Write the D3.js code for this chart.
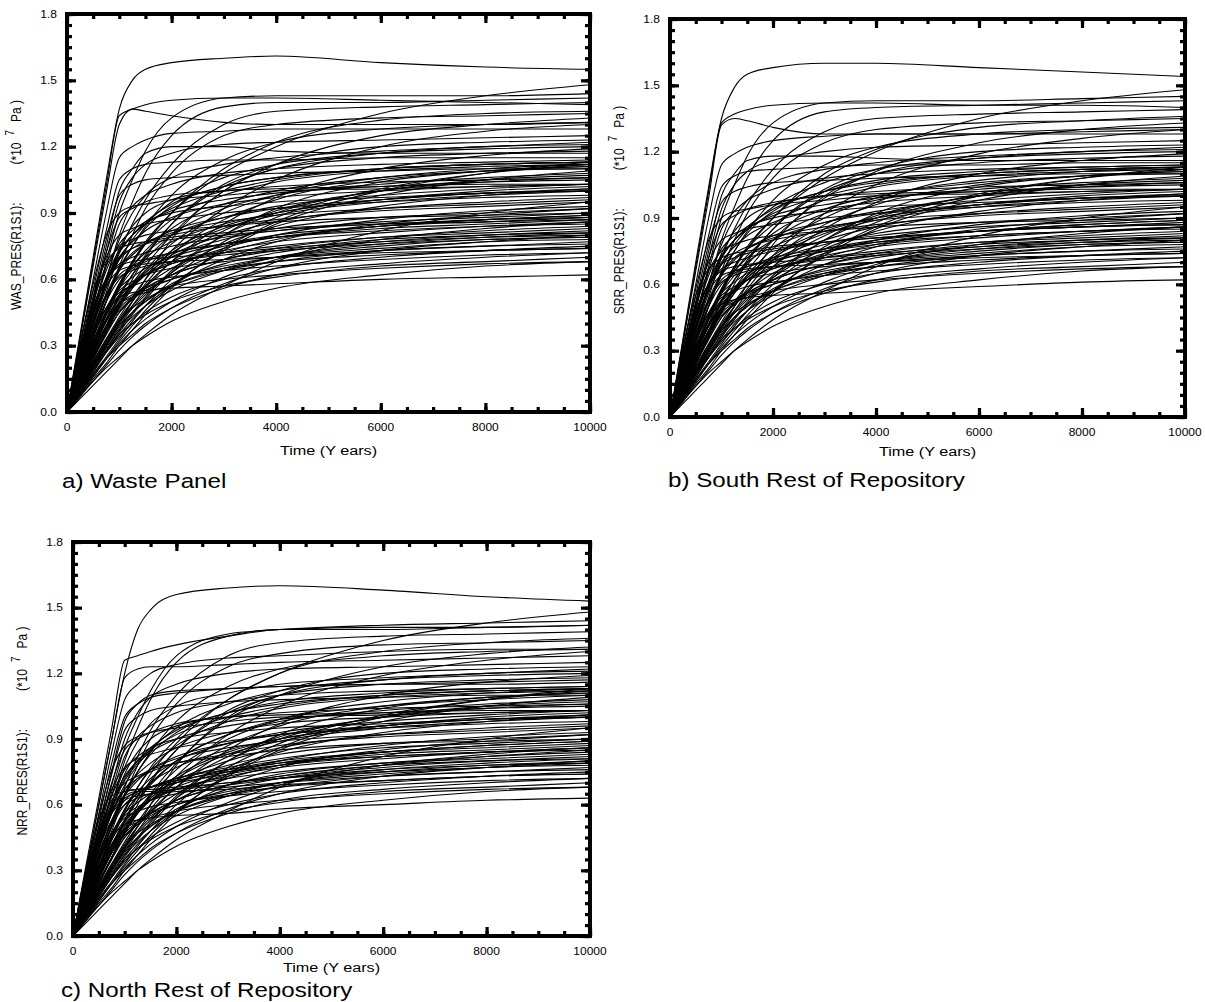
<!DOCTYPE html>
<html><head><meta charset="utf-8">
<script src="https://cdn.jsdelivr.net/npm/d3@7"></script>
<style>body{margin:0;background:#fff}</style>
</head><body>
<svg id="chart" width="1205" height="1002"></svg>
<script>
// ---------- data ----------
const years = [0,250,500,750,1000,1250,1500,2000,3000,4000,6000,8000,10000];
const xMajorTicks = [0,2000,4000,6000,8000,10000];
const yMajorTicks = [0,0.3,0.6,0.9,1.2,1.5,1.8];
const xTickLabels = ["0","2000","4000","6000","8000","10000"];
const yTickLabels = ["0.0","0.3","0.6","0.9","1.2","1.5","1.8"];
const variableNames = ["WAS_PRES(R1S1):","SRR_PRES(R1S1):","NRR_PRES(R1S1):"];
const captions = ["a) Waste Panel","b) South Rest of Repository","c) North Rest of Repository"];
const xTitle = "Time (Y ears)";

// pressure (x 10^7 Pa) at the times in `years`
const wasCurves = [
[0,.35,.7,1.05,1.37,1.5,1.55,1.58,1.6,1.61,1.58,1.56,1.55],
[0,.34,.68,1.02,1.34,1.37,1.39,1.41,1.42,1.42,1.41,1.4,1.39],
[0,.33,.66,.99,1.3,1.37,1.36,1.34,1.31,1.3,1.3,1.3,1.31],
[0,.15,.3,.44,.57,.68,.77,.9,1.08,1.2,1.35,1.43,1.48],
[0,.22,.45,.68,.9,1.05,1.18,1.33,1.42,1.43,1.43,1.43,1.44],
[0,.2,.4,.6,.8,.95,1.08,1.25,1.38,1.4,1.4,1.41,1.42],
[0,.25,.5,.75,1.0,1.1,1.17,1.2,1.2,1.18,1.17,1.17,1.17],
[0,.18,.36,.54,.72,.85,.96,1.12,1.3,1.36,1.38,1.39,1.4],
[0,.14,.28,.42,.56,.67,.76,.9,1.1,1.22,1.32,1.35,1.36],
[0,.3,.6,.9,1.15,1.2,1.23,1.26,1.27,1.28,1.28,1.28,1.28],
[0,.12,.25,.37,.48,.58,.66,.8,1.0,1.12,1.25,1.3,1.33],
[0,.28,.55,.82,1.05,1.1,1.12,1.13,1.14,1.14,1.15,1.15,1.15],
[0,.16,.33,.5,.66,.8,.92,1.08,1.25,1.3,1.33,1.34,1.35],
[0,.11,.22,.33,.43,.52,.6,.73,.92,1.05,1.2,1.27,1.3],
[0,.24,.48,.72,.95,1.06,1.12,1.17,1.21,1.22,1.23,1.24,1.25],
[0,.2,.4,.6,.78,.9,.98,1.06,1.12,1.15,1.18,1.2,1.22],
[0,.13,.26,.39,.52,.62,.71,.85,1.02,1.1,1.17,1.2,1.21],
[0,.26,.52,.78,.98,1.03,1.05,1.06,1.07,1.08,1.09,1.1,1.1],
[0,.1,.2,.3,.4,.48,.56,.68,.85,.97,1.1,1.16,1.19],
[0,.22,.44,.66,.85,.93,.98,1.03,1.08,1.1,1.12,1.13,1.14],
[0,.17,.34,.5,.65,.75,.83,.93,1.02,1.06,1.1,1.12,1.13],
[0,.25,.5,.72,.88,.92,.95,.98,1.0,1.02,1.04,1.05,1.06],
[0,.12,.24,.36,.47,.56,.64,.76,.9,.98,1.06,1.1,1.12],
[0,.3,.58,.8,.9,.93,.94,.96,.98,1.0,1.01,1.02,1.03],
[0,.15,.3,.45,.58,.68,.76,.87,.98,1.04,1.09,1.11,1.12],
[0,.09,.18,.27,.36,.44,.51,.63,.8,.92,1.04,1.09,1.11],
[0,.2,.4,.58,.72,.8,.85,.91,.96,.99,1.02,1.04,1.05],
[0,.14,.28,.41,.53,.62,.69,.8,.92,.98,1.03,1.06,1.08],
[0,.27,.52,.7,.8,.83,.85,.87,.9,.92,.95,.97,.98],
[0,.11,.22,.32,.42,.5,.57,.68,.82,.91,1.0,1.04,1.06],
[0,.18,.36,.52,.64,.71,.76,.82,.88,.92,.96,.99,1.0],
[0,.08,.16,.24,.32,.39,.46,.57,.73,.85,.98,1.05,1.09],
[0,.22,.42,.58,.69,.74,.77,.8,.84,.87,.91,.93,.95],
[0,.13,.26,.38,.49,.57,.63,.72,.83,.89,.95,.98,1.0],
[0,.16,.32,.46,.58,.66,.72,.8,.88,.93,.98,1.01,1.03],
[0,.31,.55,.68,.74,.76,.77,.79,.81,.83,.85,.87,.88],
[0,.1,.2,.3,.39,.47,.53,.63,.76,.84,.93,.98,1.01],
[0,.19,.37,.53,.65,.72,.76,.81,.86,.89,.92,.94,.96],
[0,.14,.27,.39,.49,.57,.63,.71,.8,.86,.92,.95,.97],
[0,.24,.45,.6,.7,.74,.76,.78,.8,.82,.85,.86,.87],
[0,.12,.24,.35,.45,.52,.57,.65,.74,.8,.87,.91,.93],
[0,.2,.38,.52,.62,.66,.69,.72,.76,.79,.83,.85,.87],
[0,.09,.18,.27,.35,.42,.48,.57,.69,.77,.85,.89,.92],
[0,.28,.48,.6,.66,.68,.69,.7,.72,.74,.77,.79,.8],
[0,.15,.29,.41,.51,.57,.62,.68,.75,.79,.84,.86,.88],
[0,.11,.22,.32,.41,.48,.54,.62,.72,.78,.84,.87,.89],
[0,.22,.4,.53,.61,.64,.66,.68,.71,.73,.76,.78,.79],
[0,.17,.32,.44,.53,.58,.62,.67,.72,.75,.79,.81,.83],
[0,.13,.25,.36,.45,.51,.56,.62,.69,.73,.78,.8,.82],
[0,.08,.16,.24,.31,.37,.42,.5,.61,.69,.78,.83,.86],
[0,.19,.35,.47,.55,.59,.62,.65,.68,.7,.73,.75,.76],
[0,.25,.44,.57,.64,.66,.67,.68,.69,.7,.72,.73,.74],
[0,.1,.2,.29,.37,.43,.48,.55,.64,.7,.76,.79,.81],
[0,.14,.27,.38,.46,.51,.55,.6,.66,.7,.74,.77,.78],
[0,.2,.36,.47,.54,.57,.59,.61,.64,.66,.69,.71,.72],
[0,.07,.14,.21,.28,.34,.39,.47,.58,.65,.73,.77,.8],
[0,.12,.23,.33,.41,.47,.51,.57,.64,.68,.73,.75,.77],
[0,.16,.3,.41,.49,.53,.56,.6,.65,.68,.71,.73,.74],
[0,.08,.14,.2,.25,.3,.34,.41,.5,.56,.62,.66,.68],
[0,.2,.35,.45,.52,.54,.55,.56,.57,.58,.6,.61,.62],
[0,.09,.17,.24,.3,.35,.4,.47,.56,.62,.67,.7,.72],
[0,.1,.19,.27,.34,.4,.45,.52,.6,.65,.7,.73,.75],
[0,.11,.2,.28,.35,.4,.44,.5,.57,.61,.66,.68,.7],
[0,.18,.32,.42,.49,.52,.54,.57,.6,.62,.65,.67,.68],
[0,.1,.2,.3,.4,.5,.6,.78,1.0,1.1,1.15,1.17,1.18],
[0,.12,.24,.36,.48,.6,.7,.85,1.03,1.12,1.2,1.22,1.23],
[0,.2,.4,.58,.74,.84,.9,.96,1.0,1.01,1.02,1.03,1.03],
[0,.15,.3,.44,.56,.64,.7,.77,.85,.9,.96,1.0,1.02],
[0,.24,.46,.64,.76,.82,.86,.9,.93,.95,.97,.99,1.0],
[0,.06,.12,.18,.24,.3,.35,.44,.57,.68,.82,.9,.95],
[0,.16,.31,.45,.57,.66,.73,.83,.94,1.0,1.06,1.09,1.1],
[0,.21,.41,.58,.7,.77,.82,.88,.94,.97,1.0,1.02,1.03],
[0,.1,.21,.31,.41,.5,.58,.71,.87,.96,1.05,1.09,1.11],
[0,.26,.47,.6,.67,.7,.72,.75,.79,.82,.86,.88,.9],
[0,.13,.26,.38,.48,.56,.62,.7,.78,.83,.88,.9,.92],
[0,.18,.34,.47,.56,.61,.65,.7,.76,.8,.84,.87,.89],
[0,.09,.19,.28,.37,.45,.52,.64,.8,.9,1.0,1.05,1.07],
[0,.23,.44,.61,.73,.8,.85,.92,1.0,1.05,1.1,1.12,1.13],
[0,.15,.28,.39,.47,.52,.56,.62,.69,.74,.79,.82,.84],
[0,.12,.22,.31,.39,.45,.5,.57,.65,.7,.75,.78,.79],
[0,.2,.39,.56,.69,.78,.85,.95,1.06,1.12,1.17,1.19,1.2],
[0,.17,.34,.5,.64,.75,.84,.98,1.14,1.22,1.28,1.3,1.31],
[0,.08,.17,.25,.33,.41,.48,.6,.77,.88,1.01,1.08,1.12],
[0,.27,.5,.66,.75,.78,.8,.82,.84,.86,.88,.89,.9],
[0,.14,.27,.39,.5,.58,.64,.73,.84,.9,.96,.99,1.01],
[0,.19,.36,.5,.6,.65,.68,.72,.76,.79,.82,.84,.85],
[0,.11,.21,.3,.38,.45,.5,.58,.67,.72,.77,.8,.81],
[0,.22,.42,.59,.72,.8,.86,.94,1.02,1.06,1.1,1.12,1.13],
[0,.07,.15,.22,.3,.37,.44,.56,.74,.86,1.0,1.08,1.13],
[0,.16,.3,.42,.52,.58,.62,.67,.73,.77,.81,.84,.86]
];

const srrCurves = [
[0,.35,.7,1.04,1.35,1.49,1.55,1.58,1.6,1.6,1.58,1.56,1.54],
[0,.34,.68,1.02,1.33,1.37,1.39,1.41,1.42,1.42,1.41,1.41,1.4],
[0,.33,.66,.99,1.32,1.35,1.34,1.31,1.28,1.28,1.28,1.29,1.3],
[0,.15,.3,.44,.57,.68,.77,.9,1.08,1.2,1.35,1.43,1.48],
[0,.22,.45,.68,.9,1.05,1.18,1.33,1.42,1.43,1.43,1.44,1.45],
[0,.2,.4,.6,.8,.95,1.08,1.25,1.38,1.4,1.41,1.42,1.43],
[0,.25,.5,.75,1.0,1.1,1.16,1.18,1.18,1.17,1.16,1.16,1.16],
[0,.18,.36,.54,.72,.85,.96,1.12,1.29,1.35,1.37,1.38,1.39],
[0,.14,.28,.42,.56,.67,.76,.9,1.1,1.21,1.31,1.34,1.36],
[0,.3,.6,.9,1.14,1.19,1.22,1.25,1.27,1.28,1.28,1.28,1.28],
[0,.12,.25,.37,.48,.58,.66,.8,.99,1.11,1.24,1.3,1.33],
[0,.28,.55,.82,1.04,1.09,1.11,1.12,1.13,1.14,1.14,1.15,1.15],
[0,.16,.33,.5,.66,.8,.92,1.08,1.24,1.3,1.33,1.34,1.35],
[0,.11,.22,.33,.43,.52,.6,.73,.92,1.05,1.19,1.26,1.3],
[0,.24,.48,.72,.94,1.05,1.11,1.16,1.2,1.22,1.23,1.24,1.25],
[0,.2,.4,.6,.78,.9,.98,1.06,1.12,1.15,1.18,1.2,1.22],
[0,.13,.26,.39,.52,.62,.71,.85,1.02,1.1,1.17,1.2,1.21],
[0,.26,.52,.78,.97,1.02,1.04,1.06,1.07,1.08,1.09,1.1,1.1],
[0,.1,.2,.3,.4,.48,.56,.68,.85,.97,1.1,1.16,1.19],
[0,.22,.44,.66,.85,.93,.98,1.03,1.08,1.1,1.12,1.13,1.14],
[0,.17,.34,.5,.65,.75,.83,.93,1.02,1.07,1.11,1.13,1.14],
[0,.25,.5,.72,.87,.91,.94,.97,1.0,1.02,1.04,1.05,1.06],
[0,.12,.24,.36,.47,.56,.64,.76,.9,.99,1.07,1.11,1.13],
[0,.3,.58,.8,.9,.93,.94,.96,.98,1.0,1.01,1.02,1.03],
[0,.15,.3,.45,.58,.68,.76,.87,.98,1.04,1.09,1.11,1.12],
[0,.09,.18,.27,.36,.44,.51,.63,.8,.92,1.04,1.09,1.11],
[0,.2,.4,.58,.72,.8,.85,.91,.96,.99,1.02,1.04,1.05],
[0,.14,.28,.41,.53,.62,.69,.8,.92,.98,1.03,1.06,1.08],
[0,.27,.52,.7,.8,.83,.85,.87,.9,.92,.95,.97,.98],
[0,.11,.22,.32,.42,.5,.57,.68,.82,.91,1.0,1.04,1.06],
[0,.18,.36,.52,.64,.71,.76,.82,.88,.92,.96,.99,1.0],
[0,.08,.16,.24,.32,.39,.46,.57,.73,.85,.98,1.05,1.09],
[0,.22,.42,.58,.69,.74,.77,.8,.84,.87,.91,.93,.95],
[0,.13,.26,.38,.49,.57,.63,.72,.83,.89,.95,.98,1.0],
[0,.16,.32,.46,.58,.66,.72,.8,.88,.93,.98,1.01,1.03],
[0,.31,.55,.67,.72,.74,.75,.77,.79,.81,.84,.86,.87],
[0,.1,.2,.3,.39,.47,.53,.63,.76,.84,.93,.98,1.01],
[0,.19,.37,.53,.65,.72,.76,.81,.86,.89,.92,.94,.96],
[0,.14,.27,.39,.49,.57,.63,.71,.8,.86,.92,.95,.97],
[0,.24,.45,.6,.69,.72,.74,.76,.79,.81,.84,.86,.87],
[0,.12,.24,.35,.45,.52,.57,.65,.74,.8,.87,.91,.93],
[0,.2,.38,.52,.62,.66,.68,.71,.75,.78,.82,.84,.86],
[0,.09,.18,.27,.35,.42,.48,.57,.69,.77,.85,.89,.92],
[0,.28,.48,.6,.66,.68,.69,.7,.72,.74,.77,.79,.8],
[0,.15,.29,.41,.51,.57,.62,.68,.75,.79,.84,.86,.88],
[0,.11,.22,.32,.41,.48,.54,.62,.72,.78,.84,.87,.89],
[0,.22,.4,.53,.61,.64,.66,.68,.71,.73,.76,.78,.79],
[0,.17,.32,.44,.53,.58,.62,.67,.72,.75,.79,.81,.83],
[0,.13,.25,.36,.45,.51,.56,.62,.69,.73,.78,.8,.82],
[0,.08,.16,.24,.31,.37,.42,.5,.61,.69,.78,.83,.86],
[0,.19,.35,.47,.55,.59,.62,.65,.68,.7,.73,.75,.76],
[0,.25,.44,.57,.64,.66,.67,.68,.69,.7,.72,.73,.74],
[0,.1,.2,.29,.37,.43,.48,.55,.64,.7,.76,.79,.81],
[0,.14,.27,.38,.46,.51,.55,.6,.66,.7,.74,.77,.78],
[0,.2,.36,.47,.54,.57,.59,.61,.64,.66,.69,.71,.72],
[0,.07,.14,.21,.28,.34,.39,.47,.58,.65,.73,.77,.8],
[0,.12,.23,.33,.41,.47,.51,.57,.64,.68,.73,.75,.77],
[0,.16,.3,.41,.49,.53,.56,.6,.65,.68,.71,.73,.74],
[0,.08,.14,.2,.25,.3,.34,.41,.5,.56,.62,.66,.68],
[0,.2,.35,.45,.51,.53,.54,.55,.56,.57,.59,.61,.62],
[0,.09,.17,.24,.3,.35,.4,.47,.56,.62,.67,.7,.72],
[0,.1,.19,.27,.34,.4,.45,.52,.6,.65,.7,.73,.75],
[0,.11,.2,.28,.35,.4,.44,.5,.57,.61,.66,.68,.7],
[0,.18,.32,.42,.49,.52,.54,.57,.6,.62,.65,.67,.68],
[0,.1,.2,.3,.4,.5,.6,.78,1.0,1.1,1.15,1.17,1.18],
[0,.12,.24,.36,.48,.6,.7,.85,1.03,1.12,1.2,1.22,1.23],
[0,.2,.4,.58,.74,.84,.9,.96,1.0,1.01,1.02,1.03,1.03],
[0,.15,.3,.44,.56,.64,.7,.77,.85,.9,.96,1.0,1.02],
[0,.24,.46,.64,.76,.82,.86,.9,.93,.95,.97,.99,1.0],
[0,.06,.12,.18,.24,.3,.35,.44,.57,.68,.82,.9,.95],
[0,.16,.31,.45,.57,.66,.73,.83,.94,1.0,1.06,1.09,1.1],
[0,.21,.41,.58,.7,.77,.82,.88,.94,.97,1.0,1.02,1.03],
[0,.1,.21,.31,.41,.5,.58,.71,.87,.96,1.05,1.09,1.11],
[0,.26,.47,.6,.67,.7,.72,.75,.79,.82,.86,.88,.9],
[0,.13,.26,.38,.48,.56,.62,.7,.78,.83,.88,.9,.92],
[0,.18,.34,.47,.56,.61,.65,.7,.76,.8,.84,.87,.89],
[0,.09,.19,.28,.37,.45,.52,.64,.8,.9,1.0,1.05,1.07],
[0,.23,.44,.61,.73,.8,.85,.92,1.0,1.05,1.1,1.12,1.13],
[0,.15,.28,.39,.47,.52,.56,.62,.69,.74,.79,.82,.84],
[0,.12,.22,.31,.39,.45,.5,.57,.65,.7,.75,.78,.79],
[0,.2,.39,.56,.69,.78,.85,.95,1.06,1.12,1.17,1.19,1.2],
[0,.17,.34,.5,.64,.75,.84,.98,1.14,1.22,1.28,1.3,1.31],
[0,.08,.17,.25,.33,.41,.48,.6,.77,.88,1.01,1.08,1.12],
[0,.27,.5,.66,.75,.78,.8,.82,.84,.86,.88,.89,.9],
[0,.14,.27,.39,.5,.58,.64,.73,.84,.9,.96,.99,1.01],
[0,.19,.36,.5,.6,.65,.68,.72,.76,.79,.82,.84,.85],
[0,.11,.21,.3,.38,.45,.5,.58,.67,.72,.77,.8,.81],
[0,.22,.42,.59,.72,.8,.86,.94,1.02,1.06,1.1,1.12,1.13],
[0,.07,.15,.22,.3,.37,.44,.56,.74,.86,1.0,1.08,1.13],
[0,.16,.3,.42,.52,.58,.62,.67,.73,.77,.81,.84,.86]
];

const nrrCurves = [
[0,.3,.6,.9,1.2,1.4,1.49,1.56,1.59,1.6,1.58,1.55,1.53],
[0,.32,.63,.95,1.26,1.28,1.3,1.33,1.37,1.4,1.41,1.41,1.42],
[0,.3,.6,.9,1.18,1.22,1.23,1.23,1.24,1.25,1.26,1.27,1.28],
[0,.15,.3,.44,.57,.68,.77,.9,1.08,1.2,1.35,1.43,1.48],
[0,.2,.4,.6,.8,.95,1.08,1.25,1.37,1.4,1.4,1.41,1.42],
[0,.22,.44,.66,.86,1.0,1.12,1.28,1.38,1.4,1.42,1.43,1.44],
[0,.25,.5,.75,.98,1.06,1.1,1.12,1.13,1.14,1.15,1.16,1.17],
[0,.17,.34,.51,.68,.82,.94,1.1,1.28,1.34,1.37,1.38,1.39],
[0,.13,.27,.4,.53,.64,.74,.88,1.08,1.2,1.3,1.34,1.36],
[0,.28,.56,.84,1.08,1.15,1.2,1.24,1.27,1.28,1.3,1.31,1.31],
[0,.12,.24,.36,.47,.57,.65,.79,.99,1.1,1.23,1.29,1.32],
[0,.27,.53,.79,1.0,1.06,1.09,1.11,1.13,1.14,1.15,1.15,1.16],
[0,.16,.32,.48,.64,.78,.9,1.06,1.23,1.29,1.33,1.34,1.35],
[0,.11,.22,.33,.43,.52,.6,.73,.92,1.05,1.19,1.26,1.3],
[0,.23,.46,.69,.9,1.02,1.09,1.15,1.2,1.22,1.23,1.24,1.25],
[0,.2,.4,.6,.77,.89,.97,1.05,1.11,1.15,1.18,1.2,1.22],
[0,.13,.26,.39,.52,.62,.71,.85,1.02,1.1,1.17,1.2,1.21],
[0,.25,.5,.74,.94,1.0,1.03,1.05,1.07,1.08,1.09,1.1,1.1],
[0,.1,.2,.3,.4,.48,.56,.68,.85,.97,1.1,1.16,1.19],
[0,.22,.43,.64,.82,.91,.96,1.02,1.07,1.1,1.12,1.13,1.14],
[0,.17,.34,.5,.65,.75,.83,.93,1.02,1.07,1.11,1.13,1.14],
[0,.24,.48,.7,.85,.9,.93,.97,1.0,1.02,1.04,1.05,1.06],
[0,.12,.24,.36,.47,.56,.64,.76,.9,.99,1.07,1.11,1.13],
[0,.28,.55,.76,.87,.91,.93,.95,.98,1.0,1.01,1.02,1.03],
[0,.15,.3,.45,.58,.68,.76,.87,.98,1.04,1.09,1.11,1.12],
[0,.09,.18,.27,.36,.44,.51,.63,.8,.92,1.04,1.09,1.11],
[0,.2,.4,.58,.71,.79,.84,.9,.96,.99,1.02,1.04,1.05],
[0,.14,.28,.41,.53,.62,.69,.8,.92,.98,1.03,1.06,1.08],
[0,.26,.5,.67,.77,.81,.83,.86,.89,.92,.95,.97,.98],
[0,.11,.22,.32,.42,.5,.57,.68,.82,.91,1.0,1.04,1.06],
[0,.18,.36,.52,.64,.71,.76,.82,.88,.92,.96,.99,1.0],
[0,.08,.16,.24,.32,.39,.46,.57,.73,.85,.98,1.05,1.09],
[0,.22,.42,.57,.67,.72,.75,.79,.83,.87,.91,.93,.95],
[0,.13,.26,.38,.49,.57,.63,.72,.83,.89,.95,.98,1.0],
[0,.16,.32,.46,.58,.66,.72,.8,.88,.93,.98,1.01,1.03],
[0,.3,.53,.64,.66,.67,.67,.68,.7,.73,.78,.82,.85],
[0,.1,.2,.3,.39,.47,.53,.63,.76,.84,.93,.98,1.01],
[0,.19,.37,.53,.65,.72,.76,.81,.86,.89,.92,.94,.96],
[0,.14,.27,.39,.49,.57,.63,.71,.8,.86,.92,.95,.97],
[0,.24,.45,.59,.66,.67,.68,.7,.74,.78,.83,.85,.87],
[0,.12,.24,.35,.45,.52,.57,.65,.74,.8,.87,.91,.93],
[0,.2,.38,.52,.62,.66,.68,.71,.75,.78,.82,.84,.86],
[0,.09,.18,.27,.35,.42,.48,.57,.69,.77,.85,.89,.92],
[0,.27,.47,.58,.64,.66,.66,.67,.69,.72,.76,.78,.8],
[0,.15,.29,.41,.51,.57,.62,.68,.75,.79,.84,.86,.88],
[0,.11,.22,.32,.41,.48,.54,.62,.72,.78,.84,.87,.89],
[0,.22,.4,.53,.6,.63,.65,.67,.7,.72,.75,.77,.79],
[0,.17,.32,.44,.53,.58,.62,.67,.72,.75,.79,.81,.83],
[0,.13,.25,.36,.45,.51,.56,.62,.69,.73,.78,.8,.82],
[0,.08,.16,.24,.31,.37,.42,.5,.61,.69,.78,.83,.86],
[0,.19,.35,.47,.55,.59,.62,.65,.68,.7,.73,.75,.76],
[0,.25,.44,.56,.62,.64,.65,.66,.67,.69,.71,.73,.74],
[0,.1,.2,.29,.37,.43,.48,.55,.64,.7,.76,.79,.81],
[0,.14,.27,.38,.46,.51,.55,.6,.66,.7,.74,.77,.78],
[0,.2,.36,.47,.54,.57,.59,.61,.64,.66,.69,.71,.72],
[0,.07,.14,.21,.28,.34,.39,.47,.58,.65,.73,.77,.8],
[0,.12,.23,.33,.41,.47,.51,.57,.64,.68,.73,.75,.77],
[0,.16,.3,.41,.49,.53,.56,.6,.65,.68,.71,.73,.74],
[0,.08,.14,.2,.25,.3,.34,.41,.5,.56,.62,.66,.68],
[0,.2,.35,.45,.51,.53,.54,.55,.56,.58,.6,.62,.63],
[0,.09,.17,.24,.3,.35,.4,.47,.56,.62,.67,.7,.72],
[0,.1,.19,.27,.34,.4,.45,.52,.6,.65,.7,.73,.75],
[0,.11,.2,.28,.35,.4,.44,.5,.57,.61,.66,.68,.7],
[0,.18,.32,.42,.49,.52,.54,.57,.6,.62,.65,.67,.68],
[0,.1,.2,.3,.4,.5,.6,.78,1.0,1.1,1.15,1.17,1.18],
[0,.12,.24,.36,.48,.6,.7,.85,1.03,1.12,1.2,1.22,1.23],
[0,.2,.4,.58,.74,.84,.9,.96,1.0,1.01,1.02,1.03,1.03],
[0,.15,.3,.44,.56,.64,.7,.77,.85,.9,.96,1.0,1.02],
[0,.24,.46,.64,.76,.82,.86,.9,.93,.95,.97,.99,1.0],
[0,.06,.12,.18,.24,.3,.35,.44,.57,.68,.82,.9,.95],
[0,.16,.31,.45,.56,.64,.7,.8,.92,.99,1.05,1.08,1.1],
[0,.21,.4,.56,.67,.74,.79,.86,.93,.97,1.0,1.02,1.03],
[0,.1,.21,.31,.41,.5,.58,.71,.87,.96,1.05,1.09,1.11],
[0,.25,.45,.57,.63,.66,.68,.72,.77,.81,.86,.88,.9],
[0,.13,.26,.38,.48,.56,.62,.7,.78,.83,.88,.9,.92],
[0,.18,.34,.47,.56,.61,.65,.7,.76,.8,.84,.87,.89],
[0,.09,.19,.28,.37,.45,.52,.64,.8,.9,1.0,1.05,1.07],
[0,.23,.44,.61,.73,.8,.85,.92,1.0,1.05,1.1,1.12,1.13],
[0,.15,.28,.39,.47,.52,.56,.62,.69,.74,.79,.82,.84],
[0,.12,.22,.31,.39,.45,.5,.57,.65,.7,.75,.78,.79],
[0,.2,.39,.56,.69,.78,.85,.95,1.06,1.12,1.17,1.19,1.2],
[0,.17,.34,.5,.64,.75,.84,.98,1.14,1.22,1.28,1.3,1.31],
[0,.08,.17,.25,.33,.41,.48,.6,.77,.88,1.01,1.08,1.12],
[0,.26,.48,.62,.7,.73,.76,.79,.82,.85,.88,.89,.9],
[0,.14,.27,.39,.5,.58,.64,.73,.84,.9,.96,.99,1.01],
[0,.19,.36,.5,.6,.65,.68,.72,.76,.79,.82,.84,.85],
[0,.11,.21,.3,.38,.45,.5,.58,.67,.72,.77,.8,.81],
[0,.22,.42,.59,.72,.8,.86,.94,1.02,1.06,1.1,1.12,1.13],
[0,.07,.15,.22,.3,.37,.44,.56,.74,.86,1.0,1.08,1.13],
[0,.16,.3,.42,.52,.58,.62,.67,.73,.77,.81,.84,.86]
];

// ---------- layout ----------
const panels = [
  {curves: wasCurves, name: variableNames[0], caption: captions[0],
   l: 67, t: 14, r: 590, b: 412, titleY: 455, capX: 62, capY: 488},
  {curves: srrCurves, name: variableNames[1], caption: captions[1],
   l: 670, t: 19, r: 1185, b: 417, titleY: 456, capX: 668, capY: 487},
  {curves: nrrCurves, name: variableNames[2], caption: captions[2],
   l: 73, t: 542, r: 590, b: 936, titleY: 972, capX: 61, capY: 997}
];

const svg = d3.select("#chart");
const FONT = "'Liberation Sans', Arial, Helvetica, sans-serif";
const xMinor = d3.range(0, 10001, 500);
const yMinor = d3.range(0, 37).map(i => i * 0.05);
const STRETCH = 1.2;

panels.forEach((p, idx) => {
  const x = d3.scaleLinear().domain([0, 10000]).range([p.l, p.r]);
  const y = d3.scaleLinear().domain([0, 1.8]).range([p.b, p.t]);
  const g = svg.append("g");

  const clipId = "clip" + idx;
  svg.append("clipPath").attr("id", clipId)
    .append("rect").attr("x", p.l).attr("y", p.t)
    .attr("width", p.r - p.l).attr("height", p.b - p.t);

  const line = d3.line()
    .x((d, i) => x(years[i]))
    .y(d => y(d))
    .curve(d3.curveMonotoneX);

  g.append("g").attr("clip-path", `url(#${clipId})`)
    .selectAll("path").data(p.curves).join("path")
    .attr("d", line)
    .attr("fill", "none")
    .attr("stroke", "#000")
    .attr("stroke-width", 1.1);

  // ticks (inward on all four sides)
  function addAxis(axis, tx, ty) {
    const a = g.append("g").attr("transform", `translate(${tx},${ty})`).call(axis);
    a.select(".domain").remove();
    a.selectAll(".tick line").attr("stroke", "#000").attr("stroke-width", 3.2);
    a.selectAll("text").remove();
    return a;
  }
  addAxis(d3.axisBottom(x).tickValues(xMinor).tickSize(-5), 0, p.b);
  addAxis(d3.axisBottom(x).tickValues(xMajorTicks).tickSize(-9), 0, p.b);
  addAxis(d3.axisTop(x).tickValues(xMinor).tickSize(-5), 0, p.t);
  addAxis(d3.axisTop(x).tickValues(xMajorTicks).tickSize(-9), 0, p.t);
  addAxis(d3.axisLeft(y).tickValues(yMinor).tickSize(-5), p.l, 0);
  addAxis(d3.axisLeft(y).tickValues(yMajorTicks).tickSize(-9), p.l, 0);
  addAxis(d3.axisRight(y).tickValues(yMinor).tickSize(-5), p.r, 0);
  addAxis(d3.axisRight(y).tickValues(yMajorTicks).tickSize(-9), p.r, 0);

  // frame
  g.append("rect").attr("x", p.l).attr("y", p.t)
    .attr("width", p.r - p.l).attr("height", p.b - p.t)
    .attr("fill", "none").attr("stroke", "#000").attr("stroke-width", 4);

  // tick labels
  g.selectAll(".xl").data(xMajorTicks).join("text")
    .attr("transform", d => `translate(${x(d)},${p.b + 19}) scale(${STRETCH},1)`)
    .attr("text-anchor", "middle").attr("font-family", FONT).attr("font-size", 10)
    .text((d, i) => xTickLabels[i]);
  g.selectAll(".yl").data(yMajorTicks).join("text")
    .attr("transform", d => `translate(${p.l - 10},${y(d) + 3.5}) scale(${STRETCH},1)`)
    .attr("text-anchor", "end").attr("font-family", FONT).attr("font-size", 10)
    .text((d, i) => yTickLabels[i]);

  // x title
  g.append("text")
    .attr("transform", `translate(${(p.l + p.r) / 2},${p.titleY}) scale(${STRETCH},1)`)
    .attr("text-anchor", "middle").attr("font-family", FONT).attr("font-size", 13.5)
    .text(xTitle);

  // y title
  const cy = (p.t + p.b) / 2 - 8;
  const yt = g.append("text")
    .attr("transform", `translate(${p.l - 46},${cy}) rotate(-90) scale(1,${STRETCH})`)
    .attr("text-anchor", "middle").attr("font-family", FONT).attr("font-size", 12);
  yt.append("tspan").text(p.name);
  yt.append("tspan").attr("dx", 38).text("(*10");
  yt.append("tspan").attr("dx", 7).attr("dy", -6).attr("font-size", 10).text("7");
  yt.append("tspan").attr("dx", 8).attr("dy", 6).text("Pa )");

  // caption
  g.append("text")
    .attr("transform", `translate(${p.capX},${p.capY}) scale(1.24,1)`)
    .attr("font-family", FONT).attr("font-size", 19.5).text(p.caption);
});
</script>
</body></html>
